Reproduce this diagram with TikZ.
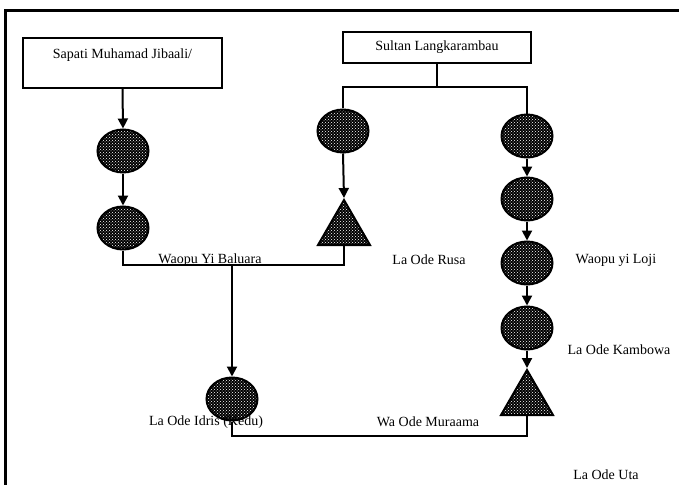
\documentclass[tikz,border=0pt]{standalone}
\usepackage{fontspec}
\setmainfont{Liberation Serif}
\usetikzlibrary{patterns,shapes.geometric,arrows.meta}
\begin{document}
\begin{tikzpicture}[x=1pt,y=-1pt,
  every node/.style={font=\fontsize{14}{18}\selectfont},
  boxnode/.style={draw=black,line width=2pt,inner sep=0pt,align=center},
  dotell/.style={ellipse,draw=black,line width=2pt,minimum width=51pt,minimum height=43pt,inner sep=0pt,
     preaction={fill=black},pattern=crosshatch dots,pattern color=white},
  dottri/.style={regular polygon,regular polygon sides=3,draw=black,line width=2pt,minimum size=60pt,inner sep=0pt,
     preaction={fill=black},pattern=crosshatch dots,pattern color=white},
  conn/.style={line width=2pt},
  arr/.style={line width=2pt,-{Triangle[width=10pt,length=10pt]}},
  lab/.style={inner sep=0pt}]
\useasboundingbox (0,0) rectangle (679,484);
\draw[line width=3pt] (5,495) -- (5,11) -- (690,11);
% boxes
\node[boxnode,minimum width=199pt,minimum height=50pt] (b1) at (122.5,63) {Sapati Muhamad Jibaali/\\ \mbox{}};
\node[boxnode,minimum width=188pt,minimum height=31pt] (b2) at (437,47.5) {Sultan Langkarambau};
% left column
\node[dotell] (e1) at (123,151) {};
\node[dotell] (e2) at (123,228) {};
% middle column
\node[dotell] (e3) at (343,131) {};
\node[dottri] (t1) at (344,230) {};
% right column
\node[dotell] (e5) at (527,136) {};
\node[dotell] (e6) at (527,199) {};
\node[dotell] (e7) at (527,263) {};
\node[dotell] (e8) at (527,328) {};
\node[dottri] (t2) at (527,400) {};
% bottom
\node[dotell] (e9) at (232,399) {};
% junctions
\coordinate (j1) at (437,87);
\coordinate (jl) at (343,87);
\coordinate (jr) at (527,87);
\coordinate (j2) at (232,265);
\coordinate (l2) at (123,265);
\coordinate (r2) at (344,265);
\coordinate (l3) at (232,436);
\coordinate (r3) at (527,436);
% connectors
\draw[arr] (b1.south) -- (e1.north);
\draw[arr] (e1.south) -- (e2.north);
\draw[conn] (b2.south) -- (j1);
\draw[conn] (e3.north) -- (jl) -- (jr) -- (e5.north);
\draw[arr] (e3.south) -- (t1.corner 1);
\draw[conn] (e2.south) -- (l2) -- (r2) -- (t1.south);
\draw[arr] (j2) -- (e9.north);
\draw[arr] (e5.south) -- (e6.north);
\draw[arr] (e6.south) -- (e7.north);
\draw[arr] (e7.south) -- (e8.north);
\draw[arr] (e8.south) -- (t2.corner 1);
\draw[conn] (e9.south) -- (l3) -- (r3) -- (t2.south);
% labels
\node[lab] (n1) at (210,260) {Waopu Yi Baluara};
\node[lab] (n2) at (429,260) {La Ode Rusa};
\node[lab] (n3) at (616,260) {Waopu yi Loji};
\node[lab] (n4) at (619,350) {La Ode Kambowa};
\node[lab] (n5) at (206,422) {La Ode Idris (Kedu)};
\node[lab] (n6) at (428,422) {Wa Ode Muraama};
\node[lab] (n7) at (606,475) {La Ode Uta};
\end{tikzpicture}
\end{document}
